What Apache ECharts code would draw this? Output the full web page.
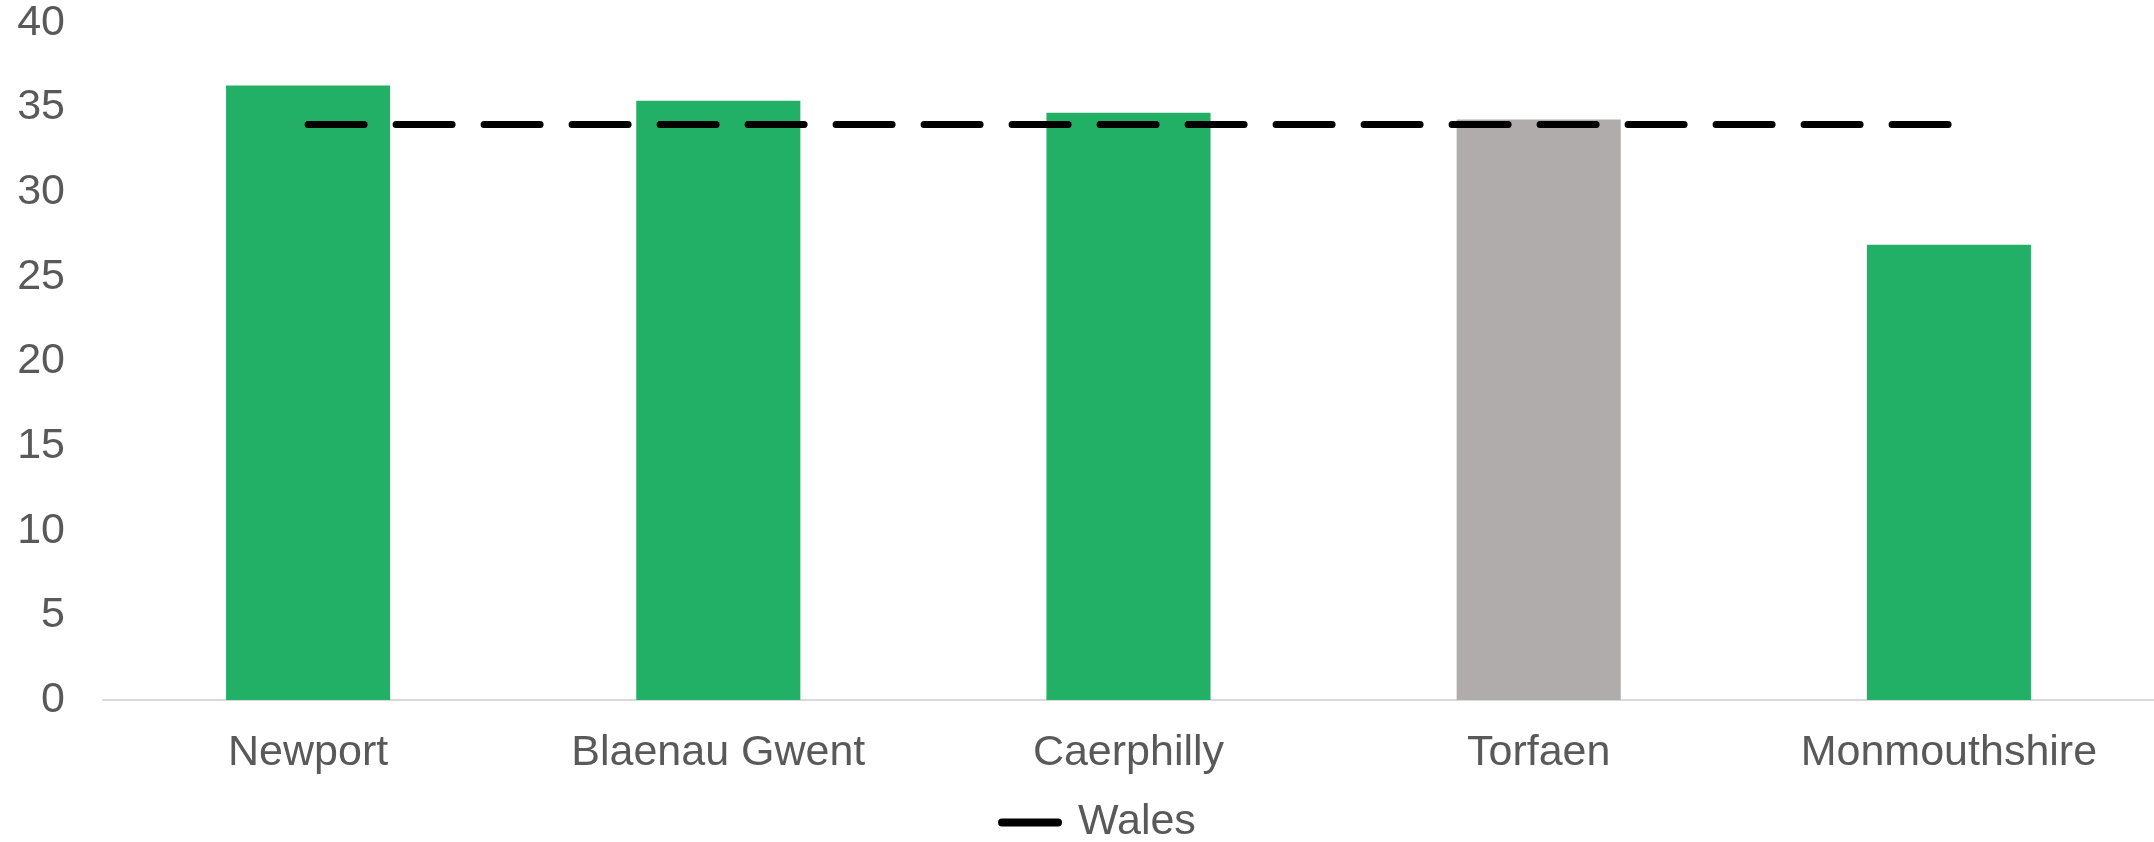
<!DOCTYPE html>
<html>
<head>
<meta charset="utf-8">
<script src="https://cdn.jsdelivr.net/npm/echarts@6/dist/echarts.min.js"></script>
<style>
html,body{margin:0;padding:0;background:#fff;}
#chart{width:2154px;height:842px;}
</style>
</head>
<body>
<div id="chart"></div>
<script>
var categories = ['Newport', 'Blaenau Gwent', 'Caerphilly', 'Torfaen', 'Monmouthshire'];
var areaValues = [36.3, 35.4, 34.7, 34.3, 26.9];
var walesValue = [34.0, 34.0, 34.0, 34.0, 34.0];
var greyCategories = ['Torfaen'];
var yTicks = [0, 5, 10, 15, 20, 25, 30, 35, 40];

var chart = echarts.init(document.getElementById('chart'));
var font = 'Liberation Sans, Arial, sans-serif';
chart.setOption({
  animation: false,
  grid: {left: 103, right: 0, top: 23, bottom: 142},
  legend: {
    data: ['Wales'],
    bottom: -2,
    left: 998,
    padding: 0,
    itemWidth: 64,
    itemHeight: 8,
    icon: 'path://M4,0 L60,0 A4,4 0 0 1 60,8 L4,8 A4,4 0 0 1 4,0 Z',
    itemStyle: {color: '#000'},
    textStyle: {fontFamily: font, fontSize: 43, color: '#595959', padding: [0, 0, 0, 11]}
  },
  xAxis: {
    type: 'category',
    data: categories,
    axisLine: {lineStyle: {color: '#D9D9D9', width: 2}},
    axisTick: {show: false},
    axisLabel: {fontFamily: font, fontSize: 43, color: '#595959', margin: 32}
  },
  yAxis: {
    type: 'value',
    min: yTicks[0],
    max: yTicks[yTicks.length - 1],
    interval: 5,
    axisLine: {show: false},
    axisTick: {show: false},
    splitLine: {show: false},
    axisLabel: {fontFamily: font, fontSize: 43, color: '#595959', margin: 38}
  },
  series: [
    {
      name: 'Area',
      type: 'bar',
      barWidth: '40%',
      data: areaValues.map(function (v, i) {
        return {
          value: v,
          itemStyle: {color: greyCategories.indexOf(categories[i]) >= 0 ? '#AFACAB' : '#22B066'}
        };
      })
    },
    {
      name: 'Wales',
      type: 'line',
      data: walesValue,
      symbol: 'none',
      z: 5,
      lineStyle: {color: '#000', width: 7, type: [56, 32], cap: 'round'}
    }
  ]
});
</script>
</body>
</html>
